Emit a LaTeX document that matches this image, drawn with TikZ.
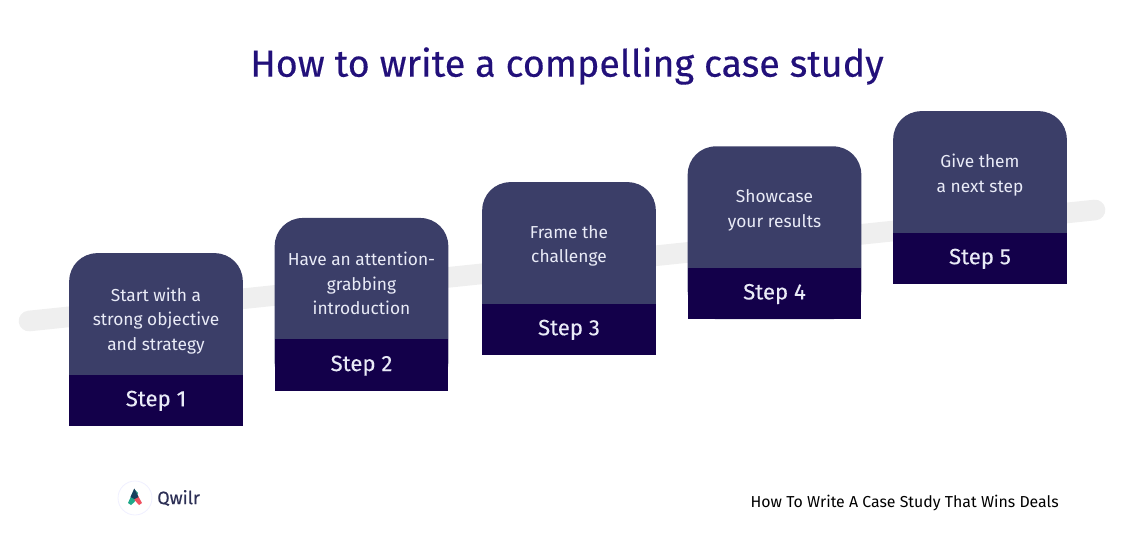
\documentclass[tikz,border=0pt]{standalone}
\usepackage{fontspec}
\setmainfont{Fira Sans}
\newfontfamily\headfont[FakeBold=0.35]{Fira Sans}
\newfontfamily\bandfont[FakeBold=0.15]{Fira Sans}
\usepackage{xcolor}
\usetikzlibrary{positioning,calc}
\definecolor{titleviolet}{HTML}{22107A}
\definecolor{slateblue}{HTML}{3B3E68}
\definecolor{deepviolet}{HTML}{13004A}
\definecolor{paletext}{HTML}{E9EBF7}
\definecolor{barsilver}{HTML}{EFEFEF}
\definecolor{logoink}{HTML}{2C2F55}
\definecolor{logoteal}{HTML}{1FA98A}
\definecolor{logored}{HTML}{F0505F}
\definecolor{logodark}{HTML}{17405C}
\tikzset{
  stepbody/.style={fill=slateblue,rounded corners=21pt,minimum width=130.2pt,minimum height=129.5pt,inner sep=0pt},
  stepband/.style={fill=deepviolet,text=paletext,minimum width=130.2pt,minimum height=38.5pt,inner sep=0pt,text height=12.6pt,text depth=3.5pt,font=\bandfont\fontsize{16.6}{20}\selectfont},
  steptext/.style={text=paletext,align=center,inner sep=0pt,font=\fontsize{13}{18.4}\selectfont},
}
\begin{document}
\begin{tikzpicture}[x=0.75pt,y=-0.75pt]
\useasboundingbox (0,0) rectangle (1143,558);
\node[text=titleviolet,font=\headfont\fontsize{28.2}{32}\selectfont] (title) at (567,66) {How to write a compelling case study};
% slanted bar behind the cards
\coordinate (barstart) at (29,321);
\coordinate (barend) at (1095,210);
\draw[barsilver,line width=15.5pt,line cap=round] (barstart) -- (barend);
% the five cards
\foreach \n/\x/\y/\dy/\txt in {1/156/339.5/51/{Start with a\\strong objective\\and strategy},
  2/361.5/304.3/49.5/{Have an attention-\\grabbing\\introduction},
  3/569/268.5/48/{Frame the\\challenge},
  4/774.5/232.7/48/{Showcase\\your results},
  5/980/197.5/48/{Give them\\a next step}}{
  \node[stepbody] (body\n) at (\x,\y) {};
  \node[stepband,anchor=south] (band\n) at (body\n.south) {Step \n};
  \node[steptext] (label\n) at ([yshift=-\dy pt]body\n.north) {\txt};
}
% logo
\node[circle,draw=blue!6,fill=white,line width=0.6pt,minimum size=25.5pt,inner sep=0pt] (badge) at (135,498) {};
\fill[logoteal] (134.3,489) -- (128,503) -- (131,505) -- (134.5,502) -- (138,493) -- cycle;
\fill[logored] (134.3,489) -- (142,503) -- (139,505) -- (134.5,500) -- cycle;
\fill[logodark] (134.3,488.5) -- (130.5,497) -- (134.5,499) -- (138.5,497) -- cycle;
\node[text=logoink,font=\fontsize{13.5}{17}\selectfont\headfont,anchor=west,inner sep=0pt] (brand) at (157,498) {Qwilr};
\node[text=black,font=\fontsize{11.9}{13}\selectfont,anchor=east,inner sep=0pt] (source) at (1059,503) {How To Write A Case Study That Wins Deals};
\end{tikzpicture}
\end{document}
